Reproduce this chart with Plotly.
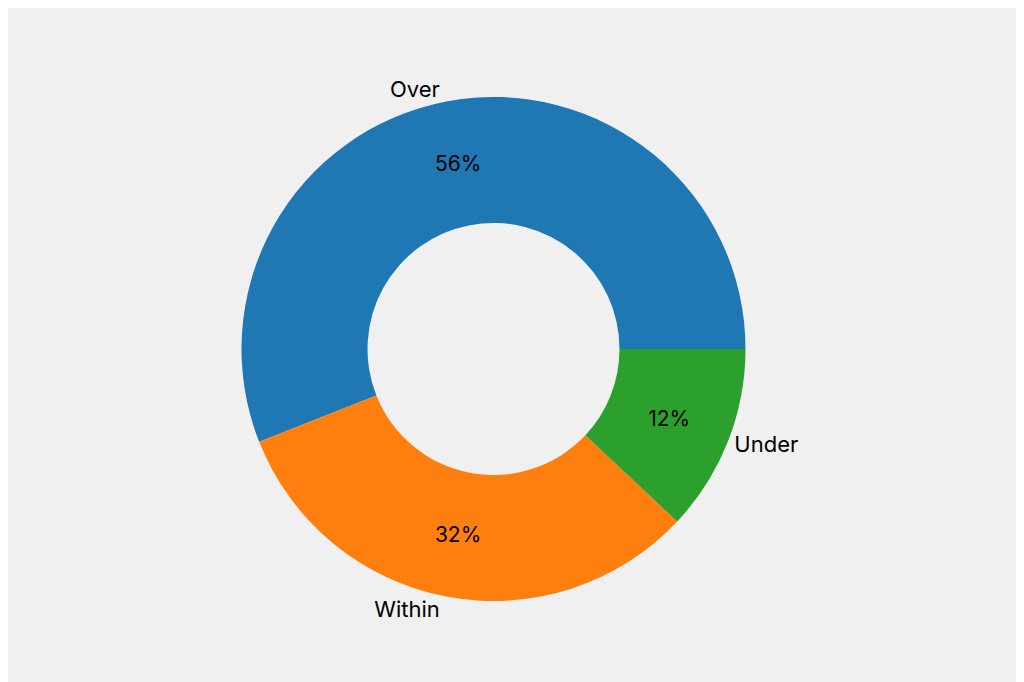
import plotly.graph_objects as go

labels = ["Over", "Within", "Under"]
values = [56, 32, 12]
colors = ["#1f77b4", "#ff7f0e", "#2ca02c"]

# first slice starts at 3 o'clock and runs counterclockwise
start = 90 - 360 * values[0] / sum(values)

fig = go.Figure()

# percentages inside the ring
fig.add_trace(go.Pie(labels=labels, values=values, hole=0.5, sort=False,
                     direction="counterclockwise", rotation=start,
                     marker=dict(colors=colors),
                     texttemplate="%{percent:.0%}", textposition="inside",
                     insidetextorientation="horizontal",
                     textfont=dict(size=21, color="black"),
                     hoverinfo="label+percent", showlegend=False))

# category names outside, on a transparent copy of the ring
fig.add_trace(go.Pie(labels=labels, values=values, hole=0.5, sort=False,
                     direction="counterclockwise", rotation=start,
                     marker=dict(colors=["rgba(0,0,0,0)"] * 3),
                     texttemplate="%{label}", textposition="outside",
                     textfont=dict(size=22, color="black"),
                     hoverinfo="skip", showlegend=False))

fig.update_layout(width=1024, height=682,
                  paper_bgcolor="#f0f0f0", plot_bgcolor="#f0f0f0",
                  margin=dict(l=0, r=0, t=89, b=89),
                  font=dict(family="Inter, sans-serif"))

fig.write_html("out.html")
